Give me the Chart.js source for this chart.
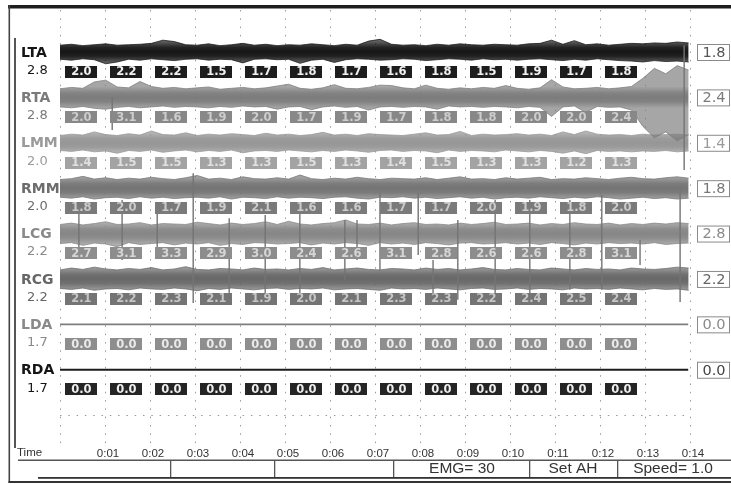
<!DOCTYPE html>
<html>
<head>
<meta charset="utf-8">
<script src="https://cdn.jsdelivr.net/npm/chart.js@4.4.0/dist/chart.umd.min.js"></script>
<style>
  html, body { margin: 0; padding: 0; background: #fff; }
  #wrap { width: 731px; height: 484px; position: relative; }
</style>
</head>
<body>
<div id="wrap"><canvas id="emg" width="731" height="484"></canvas></div>
<script>
// ---- channel layout ----
const rowNames   = ['LTA', 'RTA', 'LMM', 'RMM', 'LCG', 'RCG', 'LDA', 'RDA'];
const rowGain    = ['2.8', '2.8', '2.0', '2.0', '2.2', '2.2', '1.7', '1.7'];
const rowCurrent = ['1.8', '2.4', '1.4', '1.8', '2.8', '2.2', '0.0', '0.0'];
const timeLabels = ['0:01','0:02','0:03','0:04','0:05','0:06','0:07','0:08','0:09','0:10','0:11','0:12','0:13','0:14'];
const statusLabels = ['EMG= 30', 'Set AH', 'Speed= 1.0'];

// ---- per-second RMS readouts (13 windows per channel) ----
const ltaRms = [2.0, 2.2, 2.2, 1.5, 1.7, 1.8, 1.7, 1.6, 1.8, 1.5, 1.9, 1.7, 1.8];
const rtaRms = [2.0, 3.1, 1.6, 1.9, 2.0, 1.7, 1.9, 1.7, 1.8, 1.8, 2.0, 2.0, 2.4];
const lmmRms = [1.4, 1.5, 1.5, 1.3, 1.3, 1.5, 1.3, 1.4, 1.5, 1.3, 1.3, 1.2, 1.3];
const rmmRms = [1.8, 2.0, 1.7, 1.9, 2.1, 1.6, 1.6, 1.7, 1.7, 2.0, 1.9, 1.8, 2.0];
const lcgRms = [2.7, 3.1, 3.3, 2.9, 3.0, 2.4, 2.6, 3.1, 2.8, 2.6, 2.6, 2.8, 3.1];
const rcgRms = [2.1, 2.2, 2.3, 2.1, 1.9, 2.0, 2.1, 2.3, 2.3, 2.2, 2.4, 2.5, 2.4];
const ldaRms = [0.0, 0.0, 0.0, 0.0, 0.0, 0.0, 0.0, 0.0, 0.0, 0.0, 0.0, 0.0, 0.0];
const rdaRms = [0.0, 0.0, 0.0, 0.0, 0.0, 0.0, 0.0, 0.0, 0.0, 0.0, 0.0, 0.0, 0.0];

// ---- raw EMG envelopes: upper / lower excursion, one sample every STEP seconds ----
const STEP = 0.254;
const ltaHi = [1.5,1.7,1.4,1.6,1.8,1.5,1.6,1.7,1.9,2.6, 2.3,1.6,1.5,1.8,1.4,1.6,1.9,1.5,1.7,1.4,
               1.6,1.5,1.8,1.6,1.4,1.7,1.5,2.4,2.8,1.7, 1.5,1.6,1.4,1.7,1.5,1.8,1.6,1.5,1.7,1.6,
               1.5,1.8,1.9,2.6,1.7,2.5,1.6,1.8,1.5,1.7, 1.9,1.8,2.0,1.9,2.2,2.0];
const ltaLo = [-1.6,-1.8,-1.5,-1.7,-2.6,-2.2,-1.6,-1.8,-1.5,-1.7, -1.9,-1.6,-1.5,-1.8,-1.6,-1.7,-2.4,-1.6,-1.5,-1.7,
               -1.6,-2.5,-1.8,-1.6,-2.3,-1.7,-1.5,-1.6,-1.8,-1.7, -1.5,-1.6,-1.9,-1.7,-1.5,-1.6,-1.8,-1.5,-1.7,-1.6,
               -1.8,-1.6,-1.5,-1.7,-1.9,-1.6,-1.8,-1.5,-1.7,-1.9, -2.0,-2.2,-1.9,-2.1,-2.0,-2.2];
const rtaHi = [1.9,2.2,2.0,3.4,3.8,2.3,2.1,3.5,2.4,2.0, 2.2,1.9,2.1,2.3,1.8,2.0,2.2,1.9,2.1,2.5,
               2.9,2.0,1.8,2.1,2.8,2.0,1.9,2.2,2.7,2.6, 2.1,1.9,2.7,2.0,1.8,2.1,1.9,2.2,2.0,2.6,
               2.0,1.8,2.1,3.9,2.3,1.9,2.0,2.2,1.9,2.1, 2.4,4.2,6.4,5.2,7.0,6.0];
const rtaLo = [-2.1,-2.3,-2.0,-2.4,-2.6,-2.2,-2.0,-2.3,-2.1,-1.9, -2.2,-2.0,-2.1,-2.3,-2.0,-2.2,-1.9,-2.1,-2.0,-2.6,
               -2.1,-2.0,-2.7,-2.1,-1.9,-2.2,-2.0,-2.8,-2.1,-2.0, -2.2,-2.0,-2.1,-2.6,-1.9,-2.1,-2.0,-2.2,-2.0,-2.1,
               -2.3,-2.0,-2.2,-4.2,-2.1,-1.9,-3.3,-2.0,-2.2,-2.1, -2.8,-6.4,-8.9,-7.6,-9.6,-8.2];
const lmmHi = [1.6,1.9,1.7,2.4,1.8,1.6,2.0,1.7,2.6,1.8, 1.7,2.2,1.6,1.9,1.7,2.0,1.8,1.6,2.1,1.7,
               1.9,1.6,1.8,2.3,1.7,1.9,1.6,2.0,1.8,1.7, 1.6,1.9,2.2,1.7,1.8,2.5,1.6,1.9,1.7,1.8,
               2.0,1.7,1.9,1.6,2.4,1.8,2.6,1.9,1.7,1.8, 1.6,1.9,1.7,1.8,1.9,1.7];
const lmmLo = [-1.7,-1.9,-1.6,-2.0,-1.8,-2.3,-1.7,-1.9,-1.6,-2.1, -1.8,-1.6,-2.0,-1.7,-1.9,-1.6,-2.2,-1.8,-1.7,-1.9,
               -1.6,-1.8,-2.0,-1.7,-1.9,-1.6,-1.8,-2.1,-1.7,-1.6, -1.9,-1.7,-1.8,-2.2,-1.6,-1.9,-1.7,-1.8,-2.0,-1.6,
               -1.8,-2.0,-1.7,-1.9,-2.3,-1.8,-2.4,-1.7,-1.9,-1.8, -2.0,-1.8,-1.9,-1.7,-2.0,-1.8];
const rmmHi = [1.9,2.1,2.6,2.0,2.3,1.9,2.2,2.0,2.4,2.1, 1.9,2.3,2.8,2.0,2.2,1.9,2.5,2.1,2.0,2.3,
               2.0,2.9,2.1,1.9,2.2,2.0,2.4,2.1,1.9,2.2, 2.1,2.0,2.3,1.9,2.2,2.5,2.0,2.1,1.9,2.3,
               2.0,2.2,2.4,1.9,2.1,2.0,2.3,2.1,1.9,2.2, 2.4,2.1,2.0,2.3,2.5,2.2];
const rmmLo = [-2.0,-2.2,-1.9,-2.4,-2.1,-2.0,-2.3,-1.9,-2.2,-2.0, -2.3,-2.1,-2.0,-2.2,-1.9,-2.4,-2.0,-2.1,-2.3,-1.9,
               -2.2,-2.0,-2.1,-2.3,-2.0,-1.9,-2.2,-2.4,-2.0,-2.1, -1.9,-2.2,-2.0,-2.3,-2.1,-1.9,-2.2,-2.0,-2.4,-2.1,
               -2.0,-2.2,-1.9,-2.1,-2.3,-2.0,-2.2,-1.9,-2.1,-2.4, -2.2,-2.0,-2.3,-2.1,-2.4,-2.2];
const lcgHi = [2.0,2.3,1.9,2.2,2.6,2.0,2.1,2.4,1.9,2.2, 2.1,2.0,2.5,2.2,1.9,2.3,2.0,2.2,2.6,2.0,
               2.7,2.1,1.9,2.2,2.4,3.0,2.1,2.0,2.3,1.9, 2.2,2.4,2.0,2.1,1.9,2.3,2.0,2.2,2.5,2.0,
               2.1,2.3,1.9,2.2,2.0,2.4,2.1,2.0,2.3,1.9, 2.2,2.0,2.3,2.1,2.4,2.2];
const lcgLo = [-2.2,-2.0,-2.6,-2.1,-2.3,-2.9,-2.0,-2.4,-2.2,-2.0, -2.5,-2.1,-2.3,-2.0,-2.6,-2.2,-2.4,-2.0,-2.1,-2.3,
               -2.2,-2.0,-2.5,-2.1,-2.3,-2.0,-2.2,-2.6,-2.0,-2.3, -2.1,-2.4,-2.0,-2.2,-2.5,-2.1,-2.0,-2.3,-2.2,-2.0,
               -2.3,-2.1,-2.4,-2.0,-2.2,-2.5,-2.1,-2.3,-2.0,-2.2, -2.1,-2.3,-2.0,-2.4,-2.2,-2.1];
const rcgHi = [2.0,2.4,2.1,2.6,2.2,2.0,2.3,2.1,2.5,2.0, 2.2,2.7,2.1,2.0,2.3,2.2,2.0,2.4,2.1,2.2,
               2.0,2.3,2.1,2.5,2.0,2.2,2.4,2.1,2.0,2.3, 2.2,2.0,2.4,2.1,2.3,2.0,2.2,2.5,2.1,2.0,
               2.3,2.1,2.0,2.4,2.2,2.0,2.3,2.1,2.2,2.0, 2.4,2.2,2.1,2.3,2.6,2.4];
const rcgLo = [-2.1,-2.3,-2.0,-2.5,-2.2,-2.1,-2.4,-2.0,-2.2,-2.3, -2.0,-2.2,-2.6,-2.1,-2.3,-2.0,-2.2,-2.4,-2.1,-2.0,
               -2.3,-2.1,-2.2,-2.0,-2.4,-2.2,-2.1,-2.3,-2.5,-2.0, -2.2,-2.1,-2.3,-2.0,-2.2,-2.4,-2.1,-2.0,-2.3,-2.2,
               -2.0,-2.3,-2.1,-2.2,-2.4,-2.0,-2.2,-2.1,-2.3,-2.0, -2.2,-2.4,-2.1,-2.3,-2.2,-2.5];
// silent channels: flat trace between the first and last sample time
const flatTimes = [0, 13.96];
const ldaTrace  = [0, 0];
const rdaTrace  = [0, 0];

// ---- cross-channel artifact spikes: time (s), top and bottom (display units) ----
const artifactTimes  = [0.42, 1.16, 1.38, 2.16, 2.96, 3.76, 4.56, 5.33, 6.33, 6.60, 7.11, 7.96, 8.29, 8.84, 9.67, 10.44, 11.33, 12.04, 12.89, 13.78, 13.87];
const artifactTop    = [35.2, 60.0, 37.4, 35.2, 43.3, 33.4, 34.1, 35.2, 33.0, 33.0, 38.9, 38.9, 24.2, 33.0, 37.4, 37.4, 37.4, 38.5, 28.6, 39.6, 71.5];
const artifactBottom = [24.8, 52.8, 24.2, 25.3, 14.7, 16.9, 15.4, 15.4, 19.8, 24.2, 22.0, 25.3, 15.4, 15.4, 15.4, 15.4, 17.6, 17.6, 23.1, 14.9, 44.0];

// ---- styling ----
const ROW_SPACING = 10;                 // display units between channel baselines
const rowBase = r => (7 - r) * ROW_SPACING;
const rowStyle = [
  { trace: [22, 22, 22],    label: '#151515', box: '#1d1d1d', boxText: '#f2f2f2', right: '#555555' },
  { trace: [124, 124, 124], label: '#7a7a7a', box: '#888888', boxText: '#cdcdcd', right: '#7a7a7a' },
  { trace: [150, 150, 150], label: '#9a9a9a', box: '#a3a3a3', boxText: '#e0e0e0', right: '#9a9a9a' },
  { trace: [116, 116, 116], label: '#6c6c6c', box: '#7a7a7a', boxText: '#cbcbcb', right: '#777777' },
  { trace: [134, 134, 134], label: '#8a8a8a', box: '#8d8d8d', boxText: '#d6d6d6', right: '#8a8a8a' },
  { trace: [104, 104, 104], label: '#666666', box: '#747474', boxText: '#c6c6c6', right: '#666666' },
  { trace: [126, 126, 126], label: '#8a8a8a', box: '#8e8e8e', boxText: '#eaeaea', right: '#8a8a8a' },
  { trace: [28, 28, 28],    label: '#151515', box: '#252525', boxText: '#eeeeee', right: '#444444' }
];
const rgba = (c, a) => `rgba(${c[0]},${c[1]},${c[2]},${a})`;
const rmsRows = [ltaRms, rtaRms, lmmRms, rmmRms, lcgRms, rcgRms, ldaRms, rdaRms];
const envelopes = [[ltaHi, ltaLo], [rtaHi, rtaLo], [lmmHi, lmmLo], [rmmHi, rmmLo], [lcgHi, lcgLo], [rcgHi, rcgLo]];

// band shading: dense core, slightly thinner fringe
function bandFill(r) {
  return (c) => {
    const chart = c.chart;
    const col = rowStyle[r].trace;
    if (!chart.chartArea) return rgba(col, 1);
    const y = chart.scales.y;
    const top = y.getPixelForValue(rowBase(r) + 2.4);
    const bot = y.getPixelForValue(rowBase(r) - 2.4);
    const g = chart.ctx.createLinearGradient(0, top, 0, bot);
    g.addColorStop(0, rgba(col, 0.68));
    g.addColorStop(0.3, rgba(col, 0.95));
    g.addColorStop(0.5, rgba(col, 1));
    g.addColorStop(0.7, rgba(col, 0.95));
    g.addColorStop(1, rgba(col, 0.68));
    return g;
  };
}

// ---- datasets ----
const datasets = [];

// artifact spikes, one vertical stroke each (null breaks the line)
const spikePts = [];
artifactTimes.forEach((t, i) => {
  spikePts.push({ x: t, y: artifactTop[i] }, { x: t, y: artifactBottom[i] }, { x: t, y: null });
});
datasets.push({
  type: 'line', data: spikePts, borderColor: '#747474', borderWidth: 1.4,
  pointRadius: 0, spanGaps: false, fill: false, order: 0
});

// EMG bands: upper edge, then lower edge filled back to the upper edge
envelopes.forEach(([hi, lo], r) => {
  const base = rowBase(r);
  const edge = rgba(rowStyle[r].trace, 0.75);
  datasets.push({
    type: 'line', data: hi.map((v, i) => ({ x: i * STEP, y: base + v })),
    borderColor: edge, borderWidth: 1, pointRadius: 0, tension: 0, fill: false, order: 1 + r
  });
  datasets.push({
    type: 'line', data: lo.map((v, i) => ({ x: i * STEP, y: base + v })),
    borderColor: edge, borderWidth: 1, pointRadius: 0, tension: 0,
    fill: '-1', backgroundColor: bandFill(r), order: 1 + r
  });
});

// silent channels
[[ldaTrace, 6], [rdaTrace, 7]].forEach(([vals, r]) => {
  datasets.push({
    type: 'line', data: vals.map((v, i) => ({ x: flatTimes[i], y: rowBase(r) + v })),
    borderColor: rgba(rowStyle[r].trace, 1), borderWidth: r === 7 ? 2 : 1.6, pointRadius: 0, fill: false, order: 10
  });
});

// ---- overlay: RMS boxes, channel labels, frame and status bar ----
const overlay = {
  id: 'overlay',
  afterDatasetsDraw(chart) {
    const { ctx, scales: { x, y } } = chart;
    ctx.save();
    rmsRows.forEach((vals, r) => {
      const st = rowStyle[r];
      const cy = y.getPixelForValue(rowBase(r) - 4.35);
      vals.forEach((v, k) => {
        const x0 = x.getPixelForValue(k + 0.12);
        const x1 = x.getPixelForValue(k + 0.83);
        ctx.fillStyle = st.box;
        ctx.fillRect(Math.round(x0), Math.round(cy - 6), Math.round(x1 - x0), 12);
        ctx.fillStyle = st.boxText;
        ctx.font = 'bold 11.5px "DejaVu Sans"';
        ctx.textAlign = 'center';
        ctx.textBaseline = 'middle';
        ctx.fillText(v.toFixed(1), (x0 + x1) / 2, cy + 0.5);
      });
    });
    ctx.restore();
  },
  afterDraw(chart) {
    const { ctx, scales: { y } } = chart;
    ctx.save();
    // channel names, gains and current readings
    rowNames.forEach((name, r) => {
      const st = rowStyle[r];
      const py = y.getPixelForValue(rowBase(r));
      ctx.textAlign = 'left';
      ctx.textBaseline = 'middle';
      ctx.fillStyle = st.label;
      ctx.font = 'bold 14px "DejaVu Sans"';
      ctx.fillText(name, 21, py + 1);
      ctx.font = '13px "DejaVu Sans"';
      ctx.fillText(rowGain[r], 27, py + 18.5);
      // right-hand readout box
      ctx.fillStyle = '#ffffff';
      ctx.fillRect(697.5, py - 7.5, 32, 16);
      ctx.strokeStyle = '#8a8a8a';
      ctx.lineWidth = 1;
      ctx.strokeRect(697.5, py - 7.5, 32, 16);
      ctx.fillStyle = st.right;
      ctx.font = '14.5px "DejaVu Sans"';
      ctx.textAlign = 'center';
      ctx.fillText(rowCurrent[r], 714, py + 1);
    });

    // frame
    ctx.fillStyle = '#1e1e1e';
    ctx.fillRect(8, 5, 723, 3.5);
    ctx.fillStyle = '#444';
    ctx.fillRect(8.5, 5, 1.6, 478);
    ctx.fillStyle = '#555';
    ctx.fillRect(14, 38, 2, 410);
    ctx.fillRect(18, 459.5, 713, 1.5);
    ctx.fillStyle = '#333';
    ctx.fillRect(38, 477, 693, 1.8);
    ctx.fillRect(8.5, 481, 722.5, 2);
    ctx.fillStyle = '#555';
    [170, 274, 393, 529, 617].forEach(sx => ctx.fillRect(sx, 461, 1.3, 16));

    // axis caption and status bar
    ctx.fillStyle = '#333';
    ctx.font = '11.5px "Liberation Sans"';
    ctx.textAlign = 'left';
    ctx.textBaseline = 'middle';
    ctx.fillText('Time', 17, 452.5);
    ctx.font = '15.5px "Liberation Sans"';
    ctx.textAlign = 'center';
    const centers = [462, 573, 673];
    statusLabels.forEach((s, i) => ctx.fillText(s, centers[i], 468.5));
    ctx.restore();
  }
};

new Chart(document.getElementById('emg'), {
  type: 'line',
  data: { datasets },
  options: {
    responsive: false,
    animation: false,
    events: [],
    layout: { padding: { left: 60, right: 41, top: 10, bottom: 0 } },
    plugins: { legend: { display: false }, tooltip: { enabled: false } },
    scales: {
      x: {
        type: 'linear', min: 0, max: 14, offset: false,
        ticks: {
          stepSize: 1, autoSkip: false, maxRotation: 0, padding: 1, labelOffset: 3,
          color: '#333', font: { family: 'Liberation Sans', size: 11.5 },
          callback: v => (v === 0 ? '' : timeLabels[v - 1])
        },
        grid: { color: '#9a9a9a', lineWidth: 1, drawTicks: false, offset: false },
        border: { display: false, dash: [1.5, 6.8] },
        afterFit: s => { s.height = 38; }
      },
      y: {
        type: 'linear', min: -16.8, max: 79.25,
        ticks: { display: false, stepSize: 10 },
        grid: { color: '#9a9a9a', lineWidth: 1, drawTicks: false },
        border: { display: false, dash: [1.5, 6.8] },
        afterBuildTicks: s => { s.ticks = s.ticks.filter(t => Math.abs(t.value % 10) < 1e-6); },
        afterFit: s => { s.width = 0; }
      }
    }
  },
  plugins: [overlay]
});
</script>
</body>
</html>
